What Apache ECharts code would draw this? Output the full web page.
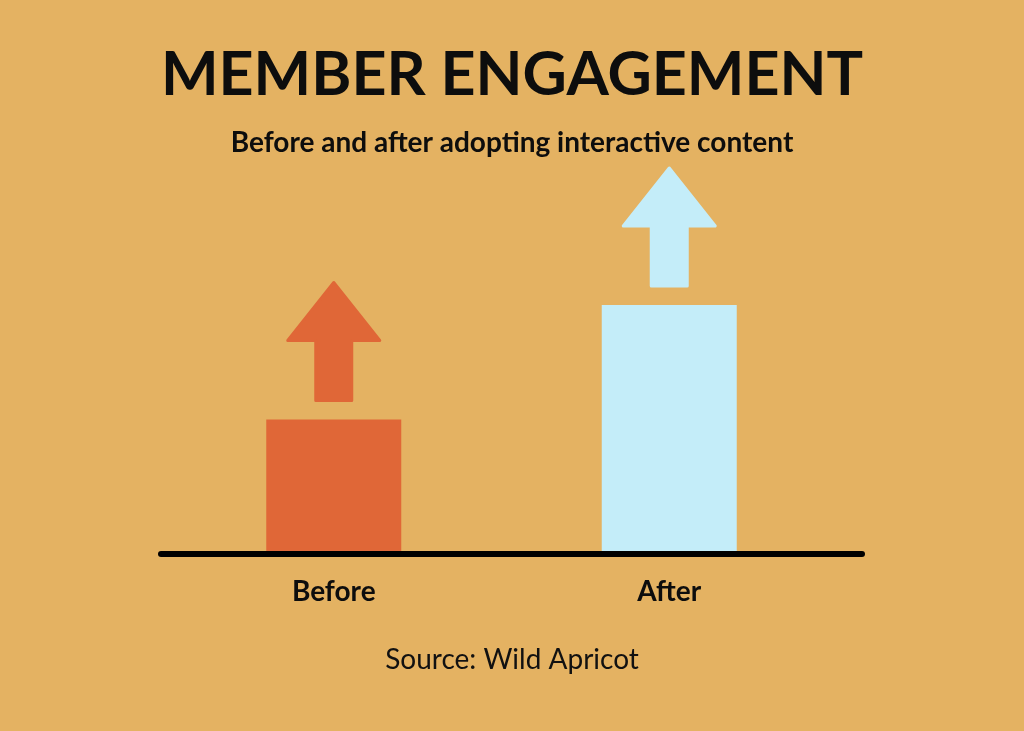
<!DOCTYPE html>
<html>
<head>
<meta charset="utf-8">
<script src="https://cdn.jsdelivr.net/npm/echarts@6/dist/echarts.min.js"></script>
<style>
  html, body { margin: 0; padding: 0; background: #E4B262; }
  #chart { width: 1024px; height: 731px; }
</style>
</head>
<body>
<div id="chart"></div>
<script>
const titleText = 'MEMBER ENGAGEMENT';
const subtitleText = 'Before and after adopting interactive content';
const sourceText = 'Source: Wild Apricot';
const categories = ['Before', 'After'];
const engagement = [27, 50];
const barColors = ['#E06737', '#C4EDF9'];

const FONT = 'Lato, "Open Sans", sans-serif';

const chart = echarts.init(document.getElementById('chart'), null, { renderer: 'canvas' });

const option = {
  backgroundColor: '#E4B262',
  animation: false,
  title: [
    { text: titleText, left: 'center', top: 40,
      textStyle: { fontFamily: FONT, fontSize: 61, fontWeight: 'bold', color: '#0d0d0d' } },
    { text: subtitleText, left: 'center', top: 124,
      textStyle: { fontFamily: FONT, fontSize: 28, fontWeight: 'bold', color: '#0d0d0d' } },
    { text: sourceText, left: 'center', top: 641,
      textStyle: { fontFamily: FONT, fontSize: 28, fontWeight: 'normal', color: '#111' } }
  ],
  grid: [
    { left: 166, right: 187, top: 56, bottom: 177, containLabel: false },
    { left: 161, right: 162, top: 56, bottom: 177, containLabel: false }
  ],
  xAxis: [
    {
      gridIndex: 0, type: 'category', data: categories,
      axisLine: { show: false }, axisTick: { show: false },
      axisLabel: { margin: 24, fontFamily: FONT, fontSize: 28, fontWeight: 'bold', color: '#0d0d0d' }
    },
    {
      gridIndex: 1, type: 'value', min: 0, max: 1, z: 10,
      axisLine: { show: true, lineStyle: { color: '#000', width: 6 } },
      axisTick: { show: false }, axisLabel: { show: false }, splitLine: { show: false }
    }
  ],
  yAxis: [
    { gridIndex: 0, type: 'value', min: 0, max: 100, show: false },
    { gridIndex: 1, type: 'value', min: 0, max: 1, show: false }
  ],
  series: [
    {
      type: 'bar', xAxisIndex: 0, yAxisIndex: 0, barWidth: 135, z: 2,
      data: engagement.map((v, i) => ({ value: v, itemStyle: { color: barColors[i] } }))
    },
    {
      type: 'custom', xAxisIndex: 0, yAxisIndex: 0, z: 3,
      data: engagement.map((v, i) => [i, v]),
      renderItem: function (params, api) {
        const pt = api.coord([api.value(0), api.value(1)]);
        const cx = pt[0];
        const base = pt[1] - 19;
        const sw = 18, hw = 46, shaftLen = 60, total = 118;
        const color = barColors[params.dataIndex];
        return {
          type: 'polygon',
          shape: {
            points: [
              [cx - sw, base], [cx - sw, base - shaftLen], [cx - hw, base - shaftLen],
              [cx, base - total], [cx + hw, base - shaftLen], [cx + sw, base - shaftLen], [cx + sw, base]
            ]
          },
          style: { fill: color, stroke: color, lineWidth: 3, lineJoin: 'round' }
        };
      }
    }
  ]
};
chart.setOption(option);
</script>
</body>
</html>
